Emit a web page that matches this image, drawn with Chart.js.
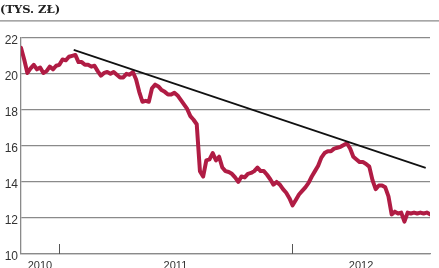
<!DOCTYPE html>
<html>
<head>
<meta charset="utf-8">
<script src="https://cdn.jsdelivr.net/npm/chart.js@4"></script>
<style>
  html, body { margin: 0; padding: 0; background: #fff; }
  #wrap { width: 439px; height: 268px; }
</style>
</head>
<body>
<div id="wrap"><canvas id="chart"></canvas></div>
<script>
// Price readings (tys. zł), one every 5 days
const startYear = 2010.838;
const stepYears = 5 / 365;
const prices = [
  21.45, 20.8, 20.05, 20.3, 20.5, 20.25, 20.35, 20.05, 20.15, 20.4,
  20.25, 20.45, 20.5, 20.8, 20.75, 20.95, 21.0, 21.05, 20.65, 20.65,
  20.5, 20.5, 20.4, 20.45, 20.15, 19.9, 20.05, 20.1, 20.0, 20.1,
  19.95, 19.8, 19.8, 20.0, 19.95, 20.1, 19.7, 19.0, 18.45, 18.5,
  18.45, 19.2, 19.4, 19.3, 19.1, 19.0, 18.85, 18.85, 18.95, 18.8,
  18.55, 18.3, 18.05, 17.65, 17.45, 17.2, 14.6, 14.3, 15.2, 15.25,
  15.6, 15.2, 15.4, 14.8, 14.6, 14.55, 14.45, 14.25, 14.0, 14.3,
  14.25, 14.45, 14.5, 14.6, 14.8, 14.6, 14.6, 14.4, 14.15, 13.85,
  14.0, 13.85, 13.6, 13.4, 13.1, 12.7, 13.0, 13.3, 13.5, 13.7,
  13.95, 14.3, 14.6, 14.9, 15.35, 15.6, 15.7, 15.7, 15.85, 15.9,
  15.95, 16.05, 16.15, 15.85, 15.4, 15.25, 15.1, 15.1, 15.0, 14.85,
  14.1, 13.6, 13.8, 13.8, 13.7, 13.2, 12.2, 12.35, 12.25, 12.3,
  11.8, 12.3, 12.25, 12.3, 12.25, 12.3, 12.25, 12.3, 12.2
];

// Trend line
const trendYears = [2011.064, 2012.573];
const trendValues = [21.33, 14.78];

// Axes
const yearStarts = [2011, 2012];
const yearLabels = ['2010', '2011', '2012'];
const yTicks = [10, 12, 14, 16, 18, 20, 22];

const GRAY = '#8a8a8a';

const priceData = prices.map((v, i) => ({ x: startYear + i * stepYears, y: v }));
const trendData = trendYears.map((x, i) => ({ x: x, y: trendValues[i] }));
const xMin = startYear;
const xMax = startYear + (prices.length - 1) * stepYears;

// Year label positions: centre of each year segment
const bounds = [xMin, ...yearStarts, xMax];
const labelPositions = yearLabels.map((_, i) => (bounds[i] + bounds[i + 1]) / 2);

const decorPlugin = {
  id: 'decor',
  beforeDraw(chart) {
    const ctx = chart.ctx;
    const top = chart.chartArea.top;
    ctx.save();
    ctx.strokeStyle = GRAY;
    ctx.lineWidth = 1.3;
    ctx.beginPath();
    ctx.moveTo(0, top - 17);
    ctx.lineTo(chart.width, top - 17);
    ctx.stroke();
    ctx.restore();
  },
  afterDatasetsDraw(chart) {
    const ctx = chart.ctx;
    const xScale = chart.scales.x;
    const bottom = chart.chartArea.bottom;
    ctx.save();
    ctx.strokeStyle = '#555';
    ctx.lineWidth = 1;
    yearStarts.forEach(y => {
      const px = Math.round(xScale.getPixelForValue(y)) + 0.5;
      ctx.beginPath();
      ctx.moveTo(px, bottom);
      ctx.lineTo(px, bottom - 10);
      ctx.stroke();
    });
    ctx.restore();
  }
};

const chart = new Chart(document.getElementById('chart').getContext('2d'), {
  type: 'line',
  data: {
    datasets: [
      {
        label: 'Trend',
        data: trendData,
        borderColor: '#111',
        borderWidth: 1.6,
        pointRadius: 0
      },
      {
        label: 'Cena',
        data: priceData,
        borderColor: '#b01c44',
        borderWidth: 4,
        borderJoinStyle: 'round',
        borderCapStyle: 'round',
        pointRadius: 0,
        tension: 0
      }
    ]
  },
  options: {
    responsive: true,
    maintainAspectRatio: false,
    animation: false,
    layout: { padding: { left: 0, right: 9, top: 0, bottom: 0 } },
    plugins: {
      legend: { display: false },
      tooltip: { enabled: false },
      title: {
        display: true,
        text: '(TYS. ZŁ)',
        align: 'start',
        color: '#222',
        font: { family: '"DejaVu Serif"', size: 11.5, weight: 'bold', lineHeight: 1.2 },
        padding: { top: 3, bottom: 21 }
      }
    },
    scales: {
      x: {
        type: 'linear',
        min: xMin,
        max: xMax,
        afterBuildTicks(scale) {
          scale.ticks = labelPositions.map(v => ({ value: v }));
        },
        afterFit(scale) { scale.height = 14; },
        grid: { display: false, drawTicks: false },
        border: { display: true, color: GRAY, width: 1.3 },
        ticks: {
          autoSkip: false,
          maxRotation: 0,
          padding: 5,
          color: '#333',
          font: { family: '"Liberation Sans"', size: 11 },
          callback: (v, i) => yearLabels[i]
        }
      },
      y: {
        min: 10,
        max: 22,
        afterBuildTicks(scale) {
          scale.ticks = yTicks.map(v => ({ value: v }));
        },
        afterFit(scale) { scale.width = 21; },
        grid: { color: GRAY, lineWidth: 1.3, drawTicks: false },
        border: { display: true, color: GRAY, width: 1.3 },
        ticks: {
          padding: 3,
          labelOffset: 3,
          color: '#333',
          font: { family: '"Liberation Sans"', size: 12 }
        }
      }
    }
  },
  plugins: [decorPlugin]
});
</script>
</body>
</html>
